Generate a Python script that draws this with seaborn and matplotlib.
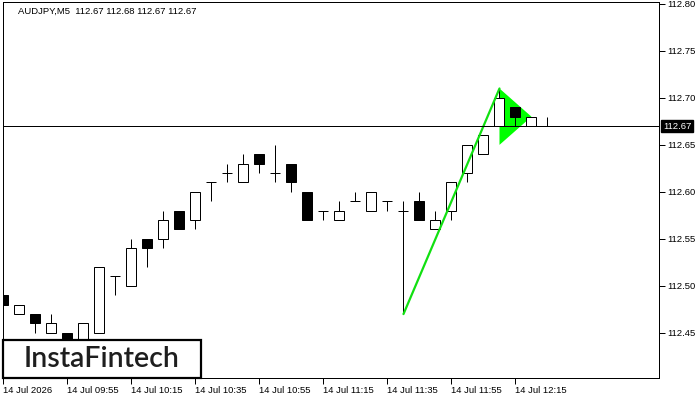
import matplotlib
matplotlib.use("Agg")
import matplotlib.pyplot as plt
import matplotlib.transforms as mtransforms
from matplotlib.patches import Rectangle
import seaborn as sns
import pandas as pd

# --- chart data (AUDJPY M5) ---
header = "AUDJPY,M5  112.67 112.68 112.67 112.67"

opens = [112.49, 112.47, 112.47, 112.45, 112.45, 112.43, 112.45, 112.51, 112.50, 112.55,
         112.55, 112.58, 112.57, 112.61, 112.62, 112.61, 112.64, 112.62, 112.63, 112.60,
         112.58, 112.57, 112.59, 112.58, 112.59, 112.58, 112.59, 112.56, 112.58, 112.62,
         112.64, 112.67, 112.69, 112.67, 112.67]
highs = [112.51, 112.48, 112.47, 112.47, 112.45, 112.46, 112.52, 112.51, 112.55, 112.55,
         112.58, 112.58, 112.60, 112.61, 112.63, 112.64, 112.64, 112.65, 112.63, 112.60,
         112.58, 112.59, 112.60, 112.60, 112.59, 112.59, 112.60, 112.58, 112.61, 112.65,
         112.66, 112.71, 112.69, 112.68, 112.68]
lows = [112.48, 112.47, 112.45, 112.45, 112.43, 112.43, 112.45, 112.49, 112.50, 112.52,
        112.54, 112.56, 112.56, 112.59, 112.61, 112.61, 112.62, 112.61, 112.60, 112.57,
        112.57, 112.57, 112.59, 112.58, 112.58, 112.47, 112.57, 112.56, 112.57, 112.61,
        112.64, 112.67, 112.67, 112.67, 112.67]
closes = [112.48, 112.48, 112.46, 112.46, 112.44, 112.46, 112.52, 112.51, 112.54, 112.54,
          112.57, 112.56, 112.60, 112.61, 112.62, 112.63, 112.63, 112.62, 112.61, 112.57,
          112.58, 112.58, 112.59, 112.60, 112.59, 112.58, 112.57, 112.57, 112.61, 112.65,
          112.66, 112.70, 112.68, 112.68, 112.67]

time_tick_bars = [0, 4, 8, 12, 16, 20, 24, 28, 32]
time_tick_labels = ["14 Jul 2026", "14 Jul 09:55", "14 Jul 10:15", "14 Jul 10:35",
                    "14 Jul 10:55", "14 Jul 11:15", "14 Jul 11:35", "14 Jul 11:55",
                    "14 Jul 12:15"]
price_ticks = [112.45, 112.50, 112.55, 112.60, 112.65, 112.70, 112.75, 112.80]
last_price = 112.67

# bullish pennant: pole and flag
pole_bars = [25, 31]
pole_prices = [112.47, 112.71]
flag_bars = [31, 31, 33]
flag_prices = [112.71, 112.65, 112.68]

sns.set_theme(style="white")
plt.rcParams["font.family"] = ["Liberation Sans", "DejaVu Sans"]

df = pd.DataFrame({"o": opens, "h": highs, "l": lows, "c": closes})
df["x"] = range(len(df))
up = df[df.c > df.o]
down = df[df.c < df.o]
doji = df[df.c == df.o]

PX = 72 / 100  # one pixel in points
W = 700
H = 400

fig = plt.figure(figsize=(7, 4), dpi=100, facecolor="white")
ax = fig.add_axes([3 / W, 22 / H, 656 / W, 376 / H])
ax.set_facecolor("white")

# flag triangle under the candles
ax.fill(flag_bars, flag_prices, color="#00ff00", lw=0, zorder=1)

# candles
ax.vlines(df.x, df.l, df.h, color="black", lw=PX, zorder=2)
ax.bar(up.x, up.c - up.o, bottom=up.o, width=0.625, facecolor="white",
       edgecolor="black", lw=PX, zorder=3)
ax.bar(down.x, down.o - down.c, bottom=down.c, width=0.625, facecolor="black",
       edgecolor="black", lw=PX, zorder=3)
ax.hlines(doji.c, doji.x - 0.3125, doji.x + 0.3125, color="black", lw=PX, zorder=3)

# pole
sns.lineplot(x=pole_bars, y=pole_prices, color="#11e011", lw=1.6, ax=ax, zorder=4)

# last price line + label
ax.axhline(last_price, color="black", lw=PX, zorder=5)
trans = mtransforms.blended_transform_factory(ax.transAxes, ax.transData)
ax.text(1.006, last_price, f"{last_price:.2f}", transform=trans, color="white",
        fontsize=6.8, va="center", ha="left",
        bbox=dict(facecolor="black", edgecolor="black", pad=1.3), clip_on=False)

ax.set_xlim(-0.03, 40.97)
ax.set_ylim(112.402, 112.802)

ax.yaxis.tick_right()
ax.set_yticks(price_ticks)
ax.set_yticklabels([f"{p:.2f}" for p in price_ticks])
ax.set_xticks(time_tick_bars)
ax.set_xticklabels(time_tick_labels, ha="left")
ax.tick_params(axis="y", direction="out", length=4, width=PX, pad=2,
               labelsize=6.8, colors="black", right=True, left=False)
ax.tick_params(axis="x", direction="out", length=4, width=PX, pad=1.5,
               labelsize=6.8, colors="black", bottom=True)
for s in ax.spines.values():
    s.set_color("black")
    s.set_linewidth(PX)
ax.set_xlabel("")
ax.set_ylabel("")
ax.grid(False)
if ax.get_legend():
    ax.get_legend().remove()

fig.text(18 / W, 1 - 11 / H, header, fontsize=6.8, va="center", ha="left", color="black")

# logo box
fig.add_artist(Rectangle((3 / W, 22 / H), 198 / W, 38 / H, transform=fig.transFigure,
                         facecolor="white", edgecolor="black", lw=1.6, zorder=10))
fig.text(102 / W, 1 - 359 / H, "InstaFintech", fontsize=20.5, family="Lato",
         fontweight="semibold", color="#1e1e1e", ha="center", va="center", zorder=11)

fig.savefig("out.png", dpi=100, facecolor="white")
